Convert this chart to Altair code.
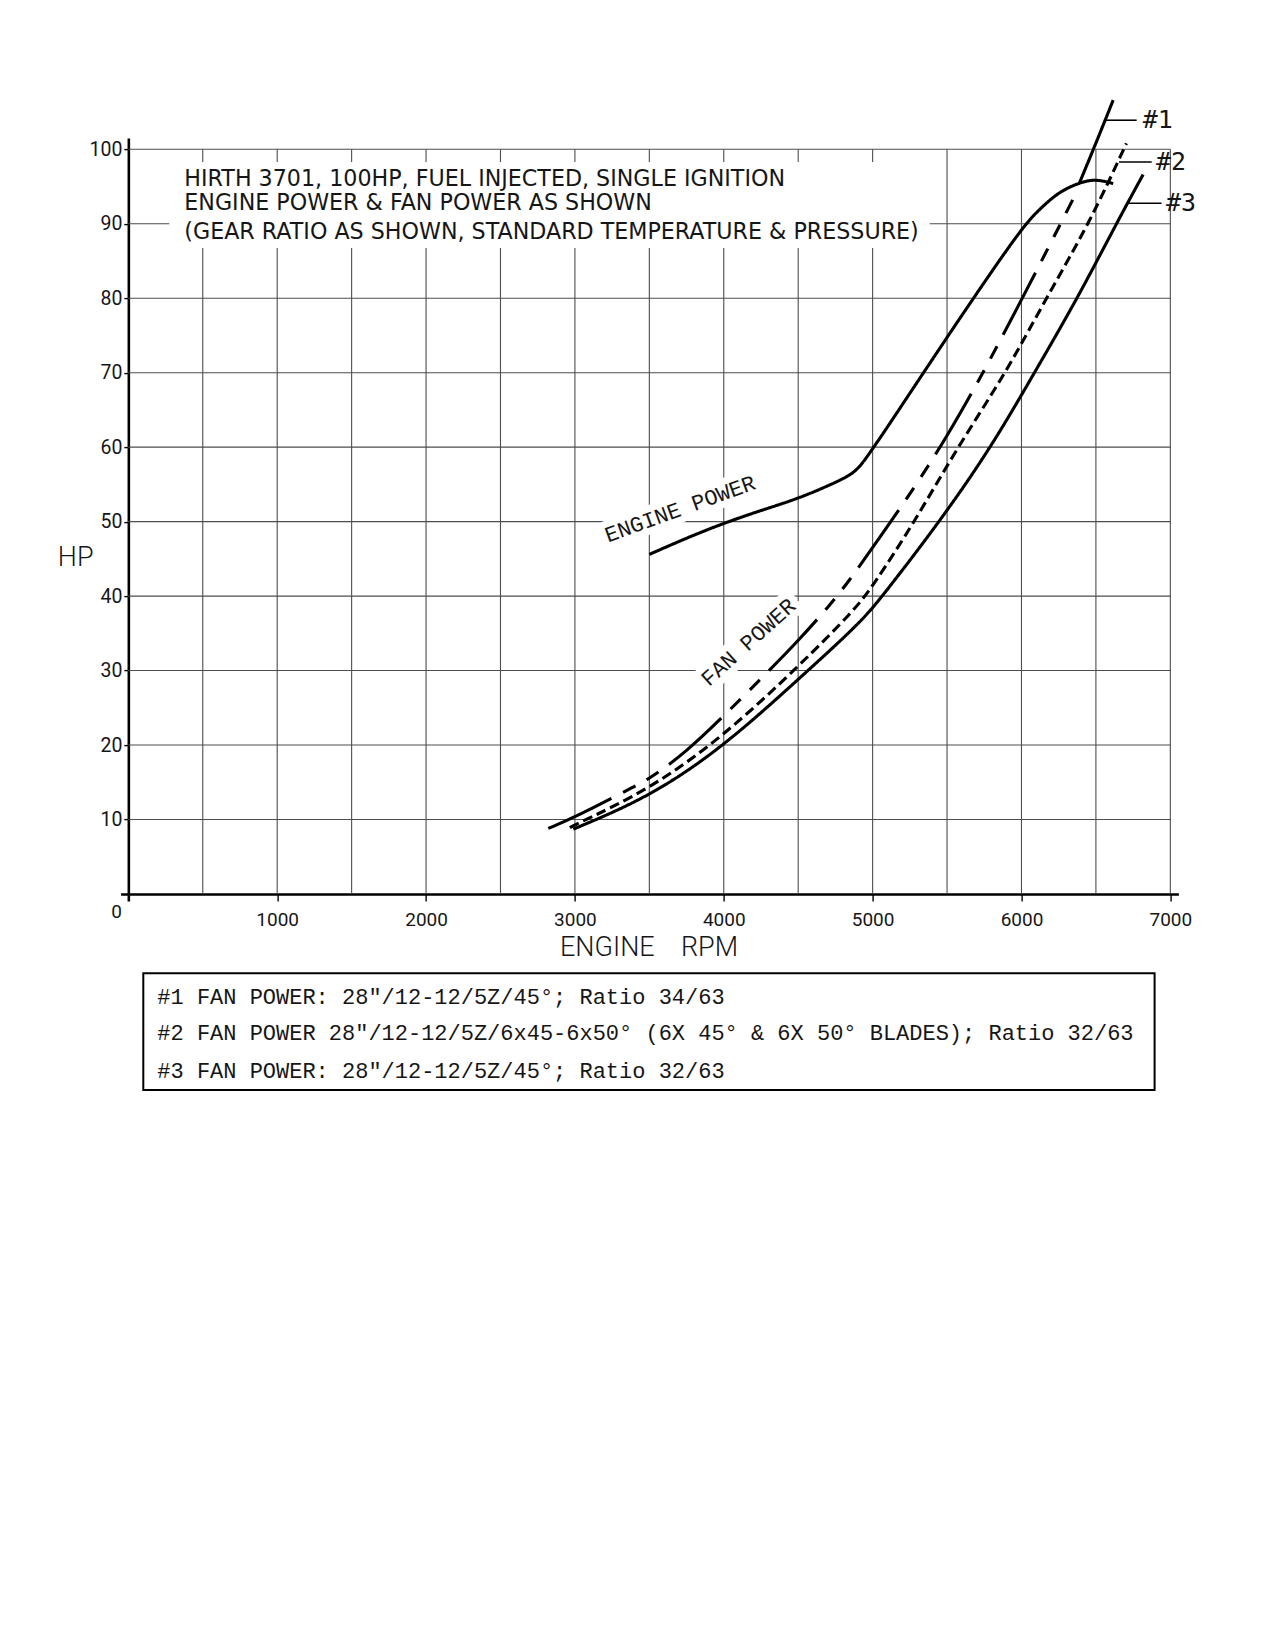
import altair as alt
import pandas as pd

# ---------------- data ----------------
engine_rpm = [3500, 3750, 4000, 4250, 4500, 4700, 4850, 4917, 5000, 5074, 5500, 6000, 6120, 6250, 6400, 6500, 6616]
engine_hp = [45.6, 47.8, 49.8, 51.5, 53.1, 54.8, 56.2, 57.4, 59.8, 61.9, 74.8, 89.5, 91.9, 94.3, 95.6, 96.0, 95.4]

# fan #1: dashed below the engine curve, solid above it (from 6390 rpm)
fan1_rpm = [2821, 3000, 3346, 3500, 3750, 4000, 4320, 4500, 4710, 4844, 5000, 5500, 6000, 6344, 6390, 6500, 6616]
fan1_hp = [8.8, 10.3, 13.9, 15.4, 19.1, 23.9, 30.3, 34.0, 38.7, 42.1, 46.5, 60.8, 79.7, 93.2, 95.5, 100.8, 106.6]
fan1_solid_from = 6390

fan2_rpm = [2966, 3000, 3500, 4000, 4500, 4877, 5000, 5283, 5570, 5897, 6165, 6455, 6705]
fan2_hp = [8.9, 9.3, 14.0, 21.2, 30.5, 38.1, 41.3, 50.0, 60.0, 70.0, 80.0, 90.0, 100.8]

fan3_rpm = [2989, 3500, 4000, 4500, 4911, 5051, 5451, 5797, 6087, 6377, 6650, 6817]
fan3_hp = [8.7, 13.0, 19.8, 28.8, 36.3, 39.6, 50.0, 60.0, 70.0, 80.0, 90.5, 96.6]

curve_names = ["ENGINE", "#1", "#1 top", "#2", "#3"]

x_tick_values = [1000, 2000, 3000, 4000, 5000, 6000, 7000]
y_tick_values = [10, 20, 30, 40, 50, 60, 70, 80, 90, 100]
grid_rpm = [500, 1000, 1500, 2000, 2500, 3000, 3500, 4000, 4500, 5000, 5500, 6000, 6500, 7000]
grid_hp = [10, 20, 30, 40, 50, 60, 70, 80, 90, 100]

title_lines = [
    "HIRTH 3701, 100HP, FUEL INJECTED, SINGLE IGNITION",
    "ENGINE POWER & FAN POWER AS SHOWN",
    "(GEAR RATIO AS SHOWN, STANDARD TEMPERATURE & PRESSURE)",
]
legend_lines = [
    "#1 FAN POWER: 28\u2033/12-12/5Z/45\u00b0; Ratio 34/63",
    "#2 FAN POWER 28\u2033/12-12/5Z/6x45-6x50\u00b0 (6X 45\u00b0 & 6X 50\u00b0 BLADES); Ratio 32/63",
    "#3 FAN POWER: 28\u2033/12-12/5Z/45\u00b0; Ratio 32/63",
]

# curve tags (#1, #2, #3) with leader lines
tag_labels = ["#1", "#2", "#3"]
tag_hp = [103.9, 98.3, 92.75]
tag_start_rpm = [6565, 6655, 6720]
tag_end_rpm = [6774, 6875, 6941]
tag_text_rpm = [6808, 6897, 6964]

# in-plot curve labels
curve_label_text = ["ENGINE POWER", "FAN POWER"]
curve_label_rpm = [3706, 4165]
curve_label_hp = [51.7, 33.8]
curve_label_angle = [340, 318]

# ---------------- scales / geometry ----------------
X_DOMAIN = [-52, 7054]
Y_DOMAIN = [-0.94, 101.5]
PX_PER_RPM = 0.148857
PX_PER_HP = 7.447
WIDTH = (X_DOMAIN[1] - X_DOMAIN[0]) * PX_PER_RPM
HEIGHT = (Y_DOMAIN[1] - Y_DOMAIN[0]) * PX_PER_HP


def px(rpm):
    return (rpm - X_DOMAIN[0]) * PX_PER_RPM


def py(hp):
    return (Y_DOMAIN[1] - hp) * PX_PER_HP


rows = []


def add_curve(name, xs, ys):
    for i, (xv, yv) in enumerate(zip(xs, ys)):
        rows.append({"curve": name, "rpm": xv, "hp": yv, "order": i})


add_curve("ENGINE", engine_rpm, engine_hp)
add_curve("#1", [r for r in fan1_rpm if r < fan1_solid_from],
          [h for r, h in zip(fan1_rpm, fan1_hp) if r < fan1_solid_from])
add_curve("#1 top", [r for r in fan1_rpm if r >= fan1_solid_from],
          [h for r, h in zip(fan1_rpm, fan1_hp) if r >= fan1_solid_from])
add_curve("#2", fan2_rpm, fan2_hp)
add_curve("#3", fan3_rpm, fan3_hp)
curves_df = pd.DataFrame(rows)

xscale = alt.Scale(domain=X_DOMAIN, nice=False, zero=False)
yscale = alt.Scale(domain=Y_DOMAIN, nice=False, zero=False)

GRID = "#4d4d4d"
INK = "#161616"
CAD = "Liberation Mono"
TITLE_FONT = "DejaVu Sans"
SANS = "Roboto"

# axes sit on rpm = 0 / hp = 0 (offset inward), their lines overhang a little like the drawing
xaxis = alt.Axis(values=x_tick_values, title=None, grid=False, format="d",
                 offset=-(HEIGHT - py(0)),
                 domainColor="black", domainWidth=2.6, tickColor="black", tickWidth=1.4,
                 tickSize=7, labelFont=SANS, labelFontSize=19, labelColor=INK,
                 labelPadding=10, labelFlush=False, labelOverlap=False)
yaxis = alt.Axis(values=y_tick_values, title=None, grid=False, format="d",
                 offset=-px(0),
                 domainColor="black", domainWidth=2.6, tickColor="black", tickWidth=1.4,
                 tickSize=4.5, labelFont=SANS, labelFontSize=19.5, labelColor=INK,
                 labelPadding=2, labelFlush=False, labelOverlap=False)


def X(field):
    return alt.X(field, scale=xscale, axis=xaxis)


def Y(field):
    return alt.Y(field, scale=yscale, axis=yaxis)


# grid
vgrid = alt.Chart(pd.DataFrame({"rpm": grid_rpm})).mark_rule(color=GRID, strokeWidth=1.1).encode(
    x=X("rpm:Q"), y=alt.value(py(100)), y2=alt.value(py(0)))
hgrid = alt.Chart(pd.DataFrame({"hp": grid_hp})).mark_rule(color=GRID, strokeWidth=1.1).encode(
    y=Y("hp:Q"), x=alt.value(px(0)), x2=alt.value(px(7000)))

one = pd.DataFrame({"k": [0]})

# white box behind the title block
title_bg = alt.Chart(one).mark_rect(color="white").encode(
    x=alt.value(48.7), x2=alt.value(809), y=alt.value(23.9), y2=alt.value(109.9))

# curve labels with white halo
cl_df = pd.DataFrame({"label": curve_label_text, "rpm": curve_label_rpm, "hp": curve_label_hp})
cl_halos = []
cl_texts = []
for i in range(len(curve_label_text)):
    base = alt.Chart(cl_df.iloc[[i]]).encode(x=X("rpm:Q"), y=Y("hp:Q"), text="label:N")
    cl_halos.append(base.mark_text(font=CAD, fontSize=22, align="center", baseline="middle",
                                   angle=curve_label_angle[i], fill="white", stroke="white",
                                   strokeWidth=14, strokeJoin="round"))
    cl_texts.append(base.mark_text(font=CAD, fontSize=22, align="center", baseline="middle",
                                   angle=curve_label_angle[i], color=INK))

# curves
lines = alt.Chart(curves_df).mark_line(color="black", strokeWidth=3.1, interpolate="basis").encode(
    x=X("rpm:Q"),
    y=Y("hp:Q"),
    detail="curve:N",
    strokeDash=alt.StrokeDash("curve:N", scale=alt.Scale(
        domain=curve_names,
        range=[[1, 0], [70, 13, 14, 13, 14, 13], [1, 0], [10, 5], [1, 0]]), legend=None),
    order="order:Q",
)

# tags
tag_df = pd.DataFrame({"label": tag_labels, "hp": tag_hp, "x1": tag_start_rpm,
                       "x2": tag_end_rpm, "xt": tag_text_rpm})
leaders = alt.Chart(tag_df).mark_rule(color="black", strokeWidth=1.6).encode(
    x=X("x1:Q"), x2="x2:Q", y=Y("hp:Q"))
tags = alt.Chart(tag_df).mark_text(font="DejaVu Sans Mono", fontSize=25, align="left",
                                   baseline="middle", color=INK, dx=1).encode(
    x=X("xt:Q"), y=Y("hp:Q"), text="label:N")


def text_at(txt, x, y, **kw):
    return alt.Chart(pd.DataFrame({"label": [txt]})).mark_text(**kw).encode(
        x=alt.value(x), y=alt.value(y), text="label:N")


title_y = [41.2, 64.4, 94.4]
titles = [text_at(t, 63.7, yy, font=TITLE_FONT, fontSize=22.2, align="left", baseline="middle",
                  color=INK) for t, yy in zip(title_lines, title_y)]

zero_label = text_at("0", -3.9, 773.6, font=SANS, fontSize=19, align="center",
                     baseline="middle", color=INK)
x_title = text_at("ENGINE\u00a0\u00a0\u00a0\u00a0RPM", 528.4, 810.4, font=SANS, fontSize=27,
                  fontWeight=300, align="center", baseline="middle", color=INK)
y_title = text_at("HP", -44.9, 420.2, font=SANS, fontSize=27, fontWeight=300,
                  align="center", baseline="middle", color=INK)

legend_box = alt.Chart(one).mark_rect(fillOpacity=0, stroke="black", strokeWidth=2).encode(
    x=alt.value(22.7), x2=alt.value(1034), y=alt.value(835.2), y2=alt.value(951.9))
legend_y = [859.2, 895.2, 932.6]
legend_texts = [text_at(t, 36.7, yy, font=CAD, fontSize=22, align="left", baseline="middle",
                        color=INK) for t, yy in zip(legend_lines, legend_y)]

chart = alt.layer(
    vgrid, hgrid, title_bg, *cl_halos, lines, leaders, tags, *cl_texts, *titles,
    zero_label, x_title, y_title, legend_box, *legend_texts,
).properties(
    width=WIDTH, height=HEIGHT,
    autosize=alt.AutoSizeParams(type="none"),
    padding={"left": 112.6, "top": 130.1, "right": 60, "bottom": 380},
).configure_view(stroke=None)

chart.save("out.html", embed_options={"renderer": "svg", "actions": False})
